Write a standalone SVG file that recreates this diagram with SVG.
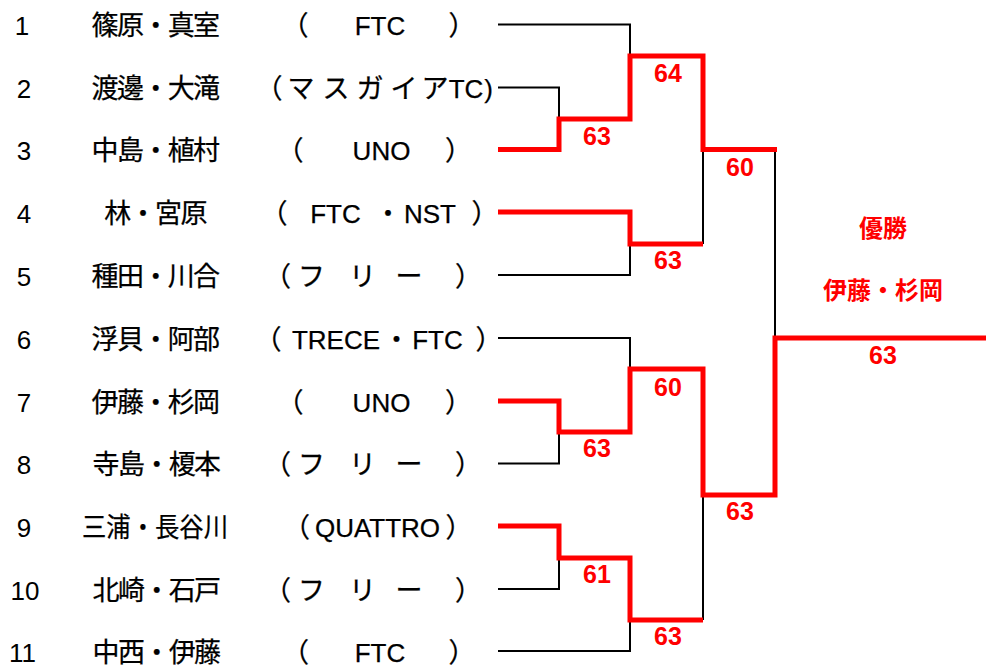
<svg xmlns="http://www.w3.org/2000/svg" width="986" height="667" viewBox="0 0 986 667">
<style>
.t{font-family:"Liberation Sans","Noto Sans CJK JP",sans-serif;font-size:26px;fill:#000;text-anchor:middle;stroke:#000;stroke-width:0.25}
.j{font-size:27px}
.m{font-size:27px;letter-spacing:-1.6px}
.n{font-family:"Liberation Sans","Noto Sans CJK JP",sans-serif;font-size:26px;fill:#000;text-anchor:middle}
.s{font-family:"Liberation Sans","Noto Sans CJK JP",sans-serif;font-size:25px;font-weight:bold;fill:#FF0000;text-anchor:middle}
.w{font-size:24px}
.b{fill:none;stroke:#000;stroke-width:2}
.r{fill:none;stroke:#FF0000;stroke-width:5;stroke-linejoin:miter;stroke-linecap:butt}
</style>
<rect width="986" height="667" fill="#fff"/>
<g id="p1"><text class="n" x="22" y="35">1</text><text class="t m" x="155" y="35">篠原・真室</text><text class="t" y="35"><tspan class="j" x="295">（</tspan><tspan x="380">FTC</tspan><tspan class="j" x="462">）</tspan></text></g>
<g id="p2"><text class="n" x="24" y="98">2</text><text class="t m" x="155" y="98">渡邊・大滝</text><text class="t" y="98"><tspan class="j" x="269">（</tspan><tspan class="j" x="301">マ</tspan><tspan class="j" x="336">ス</tspan><tspan class="j" x="370">ガ</tspan><tspan class="j" x="404">イ</tspan><tspan class="j" x="435">ア</tspan><tspan x="466">TC</tspan><tspan x="488.5">)</tspan></text></g>
<g id="p3"><text class="n" x="24" y="160">3</text><text class="t m" x="155" y="160">中島・植村</text><text class="t" y="160"><tspan class="j" x="290">（</tspan><tspan x="381.5">UNO</tspan><tspan class="j" x="458.5">）</tspan></text></g>
<g id="p4"><text class="n" x="24" y="223">4</text><text class="t m" x="155" y="223">林・宮原</text><text class="t" y="223"><tspan class="j" x="274">（</tspan><tspan x="335.5">FTC</tspan><tspan class="j" x="388">・</tspan><tspan x="430">NST</tspan><tspan class="j" x="485">）</tspan></text></g>
<g id="p5"><text class="n" x="24" y="285.5">5</text><text class="t m" x="155" y="285.5">種田・川合</text><text class="t" y="285.5"><tspan class="j" x="277.5">（</tspan><tspan class="j" x="311.5">フ</tspan><tspan class="j" x="362.5">リ</tspan><tspan class="j" x="409">ー</tspan><tspan class="j" x="468.5">）</tspan></text></g>
<g id="p6"><text class="n" x="24" y="348.5">6</text><text class="t m" x="155" y="348.5">浮貝・阿部</text><text class="t" y="348.5"><tspan class="j" x="268">（</tspan><tspan x="336">TRECE</tspan><tspan class="j" x="396.5">・</tspan><tspan x="437.5">FTC</tspan><tspan class="j" x="489">）</tspan></text></g>
<g id="p7"><text class="n" x="24" y="411.5">7</text><text class="t m" x="155" y="411.5">伊藤・杉岡</text><text class="t" y="411.5"><tspan class="j" x="290">（</tspan><tspan x="381.5">UNO</tspan><tspan class="j" x="458.5">）</tspan></text></g>
<g id="p8"><text class="n" x="24" y="474">8</text><text class="t m" x="156" y="474">寺島・榎本</text><text class="t" y="474"><tspan class="j" x="277.5">（</tspan><tspan class="j" x="311.5">フ</tspan><tspan class="j" x="362.5">リ</tspan><tspan class="j" x="409">ー</tspan><tspan class="j" x="468.5">）</tspan></text></g>
<g id="p9"><text class="n" x="24" y="536.5">9</text><text class="t j" x="155" y="536.5" textLength="146" lengthAdjust="spacingAndGlyphs">三浦・長谷川</text><text class="t" y="536.5"><tspan class="j" x="296.5">（</tspan><tspan x="377.5">QUATTRO</tspan><tspan class="j" x="459">）</tspan></text></g>
<g id="p10"><text class="n" x="25" y="599.5">10</text><text class="t m" x="156" y="599.5">北崎・石戸</text><text class="t" y="599.5"><tspan class="j" x="277.5">（</tspan><tspan class="j" x="311.5">フ</tspan><tspan class="j" x="362.5">リ</tspan><tspan class="j" x="409">ー</tspan><tspan class="j" x="468.5">）</tspan></text></g>
<g id="p11"><text class="n" x="22.5" y="662">11</text><text class="t m" x="156" y="662">中西・伊藤</text><text class="t" y="662"><tspan class="j" x="295.5">（</tspan><tspan x="380">FTC</tspan><tspan class="j" x="462">）</tspan></text></g>
<g id="connectors">
<path class="b" d="M498,24.5H630V56"/>
<path class="b" d="M498,87.5H559V119"/>
<path class="b" d="M498,275H630V244"/>
<path class="b" d="M703,150V244"/>
<path class="b" d="M775,150V338"/>
<path class="b" d="M498,338H630V369"/>
<path class="b" d="M498,463.5H559V432"/>
<path class="b" d="M703,495V620"/>
<path class="b" d="M498,589H559V558"/>
<path class="b" d="M498,651H630V620"/>
<path class="r" d="M498,149.5H559V119H630V56H703V149.5H777"/>
<path class="r" d="M498,212H630V244H703"/>
<path class="r" d="M498,401H559V432H630V369H703V495H775V338H986"/>
<path class="r" d="M498,526H559V558H630V620H703"/>
</g>
<g id="scores">
<text class="s" x="668" y="82">64</text>
<text class="s" x="597" y="145">63</text>
<text class="s" x="740" y="176">60</text>
<text class="s" x="668" y="269">63</text>
<text class="s" x="668" y="396">60</text>
<text class="s" x="597" y="457">63</text>
<text class="s" x="740" y="520">63</text>
<text class="s" x="597" y="583">61</text>
<text class="s" x="668" y="645">63</text>
<text class="s" x="883" y="364">63</text>
</g>
<g id="winner">
<text class="s w" x="883" y="237">優勝</text>
<text class="s w" x="883" y="299">伊藤・杉岡</text>
</g>
</svg>
